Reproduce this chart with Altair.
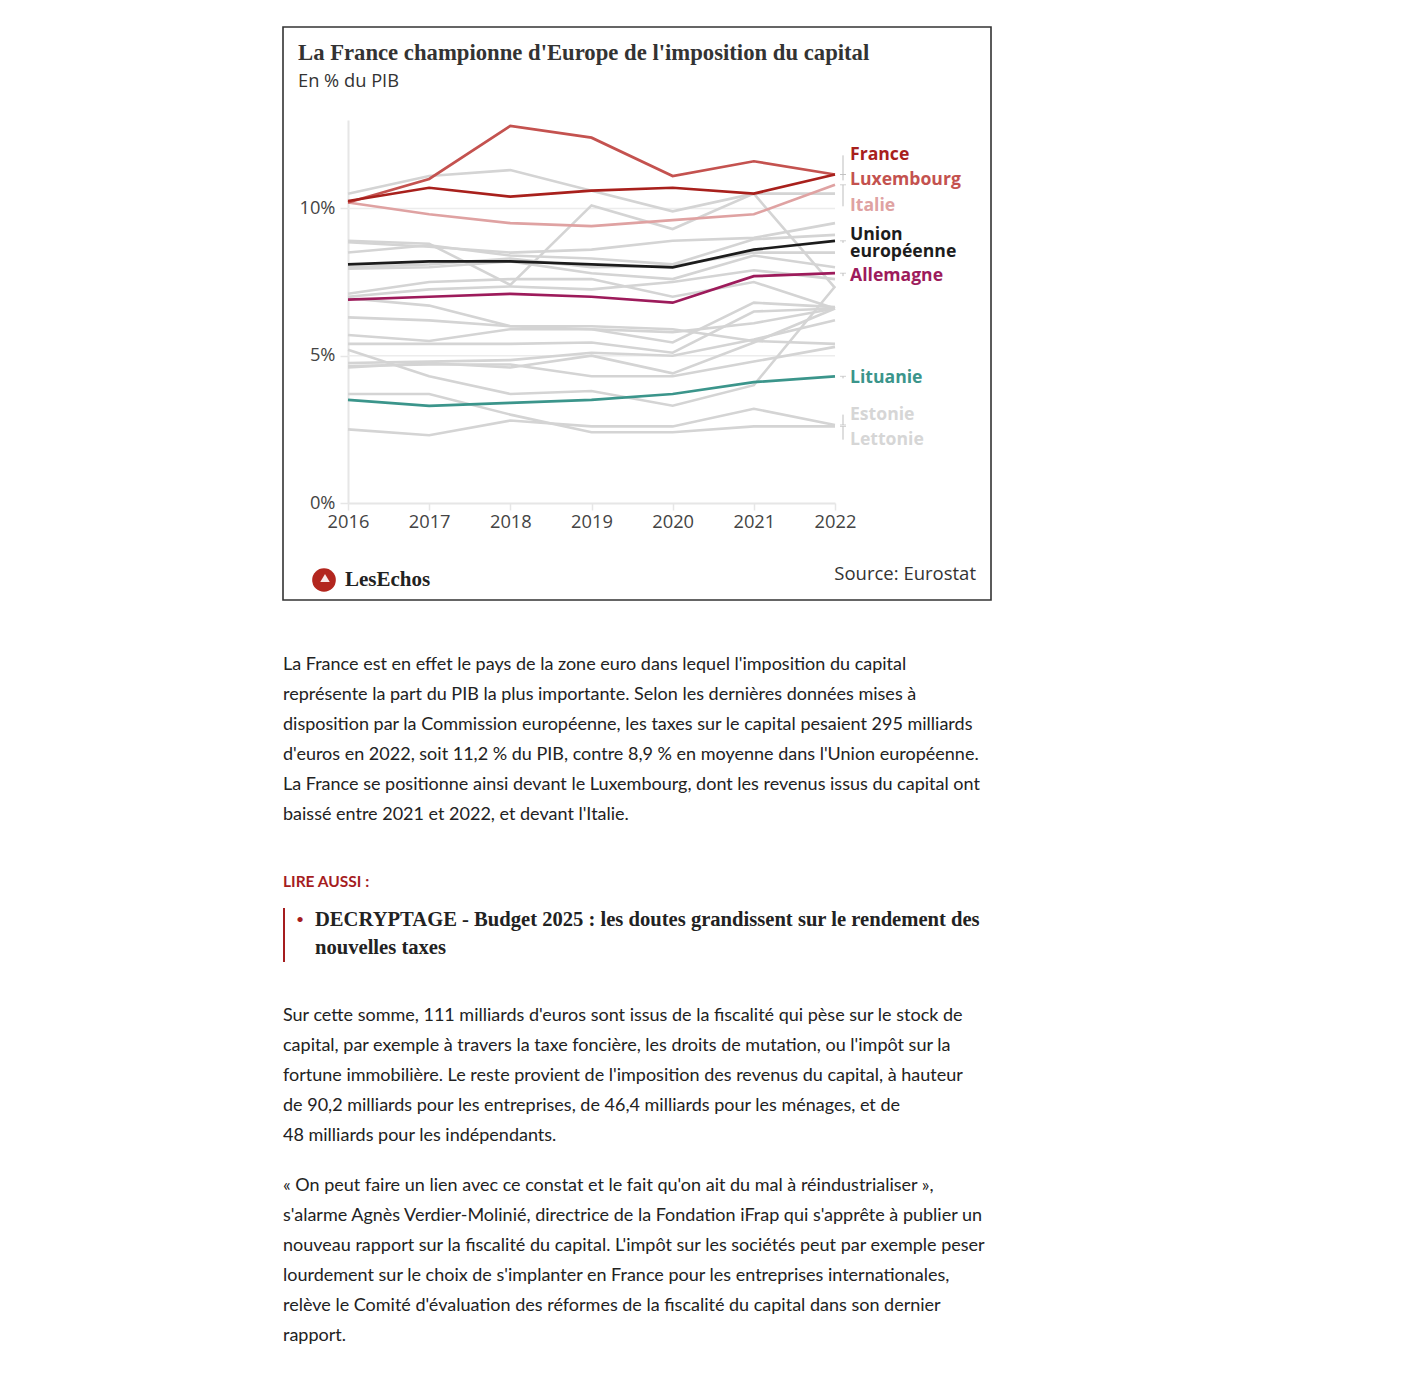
import altair as alt
import pandas as pd

# ---------------- data ----------------
years = [2016, 2017, 2018, 2019, 2020, 2021, 2022]

france = [10.25, 10.7, 10.4, 10.6, 10.7, 10.5, 11.15]
luxembourg = [10.2, 11.0, 12.8, 12.4, 11.1, 11.6, 11.15]
italie = [10.2, 9.8, 9.5, 9.4, 9.6, 9.8, 10.8]
ue = [8.1, 8.2, 8.2, 8.1, 8.0, 8.6, 8.9]
allemagne = [6.9, 7.0, 7.1, 7.0, 6.8, 7.7, 7.8]
lituanie = [3.5, 3.3, 3.4, 3.5, 3.7, 4.1, 4.3]

estonie = [2.5, 2.3, 2.8, 2.6, 2.6, 3.2, 2.65]
lettonie = [3.7, 3.7, 3.0, 2.4, 2.4, 2.6, 2.6]
belgique = [10.5, 11.1, 11.3, 10.6, 9.9, 10.5, 10.5]
chypre = [8.9, 8.8, 7.4, 10.1, 9.3, 10.5, 7.3]
danemark = [8.85, 8.7, 8.5, 8.6, 8.9, 9.0, 9.5]
autriche = [8.5, 8.75, 8.4, 8.3, 8.1, 8.95, 9.1]
espagne = [8.0, 8.1, 8.3, 8.0, 8.05, 8.5, 8.5]
pays_bas = [7.95, 8.0, 8.2, 7.8, 7.6, 8.4, 8.0]
portugal = [7.1, 7.5, 7.6, 7.6, 7.0, 7.5, 6.6]
grece = [7.0, 7.25, 7.35, 7.25, 7.5, 7.9, 7.6]
finlande = [6.95, 6.7, 6.0, 5.9, 5.8, 6.1, 6.6]
irlande = [6.3, 6.2, 6.0, 6.0, 5.9, 5.5, 5.4]
malte = [5.7, 5.5, 5.9, 5.9, 5.45, 6.8, 6.65]
slovenie = [5.4, 5.4, 5.4, 5.45, 5.1, 6.5, 6.6]
slovaquie = [5.2, 4.3, 3.7, 3.8, 3.3, 4.0, 7.35]
croatie = [4.75, 4.8, 4.85, 5.1, 5.0, 5.55, 6.2]
suede = [4.65, 4.7, 4.7, 4.3, 4.3, 4.8, 5.3]
hongrie = [4.6, 4.75, 4.6, 5.0, 4.4, 5.45, 6.6]

label_names = ["France", "Luxembourg", "Italie", "Union européenne", "Allemagne", "Lituanie", "Estonie", "Lettonie"]
label_texts = ["France", "Luxembourg", "Italie", "Union\neuropéenne", "Allemagne", "Lituanie", "Estonie", "Lettonie"]
label_pos = [11.8, 10.95, 10.07, 9.1, 7.7, 4.23, 3.0, 2.15]
label_conn = [11.8, 10.95, 10.07, 8.83, 7.7, 4.23, 3.0, 2.15]
label_end = [11.15, 11.15, 10.8, 8.9, 7.8, 4.3, 2.65, 2.6]
label_colors = ["#a8201c", "#c4524f", "#dfa2a2", "#1c1c1c", "#9d1b5b", "#3b958b", "#d6d6d6", "#d6d6d6"]

y_ticks = [0, 5, 10]
grid_vals = [5, 10]

title = "La France championne d'Europe de l'imposition du capital"
subtitle = "En % du PIB"
source = "Source: Eurostat"

para1 = [
    "La France est en effet le pays de la zone euro dans lequel l'imposition du capital",
    "représente la part du PIB la plus importante. Selon les dernières données mises à",
    "disposition par la Commission européenne, les taxes sur le capital pesaient 295 milliards",
    "d'euros en 2022, soit 11,2 % du PIB, contre 8,9 % en moyenne dans l'Union européenne.",
    "La France se positionne ainsi devant le Luxembourg, dont les revenus issus du capital ont",
    "baissé entre 2021 et 2022, et devant l'Italie.",
]
lire = "LIRE AUSSI :"
related = ["DECRYPTAGE - Budget 2025 : les doutes grandissent sur le rendement des", "nouvelles taxes"]
para2 = [
    "Sur cette somme, 111 milliards d'euros sont issus de la fiscalité qui pèse sur le stock de",
    "capital, par exemple à travers la taxe foncière, les droits de mutation, ou l'impôt sur la",
    "fortune immobilière. Le reste provient de l'imposition des revenus du capital, à hauteur",
    "de 90,2 milliards pour les entreprises, de 46,4 milliards pour les ménages, et de",
    "48 milliards pour les indépendants.",
]
para3 = [
    "« On peut faire un lien avec ce constat et le fait qu'on ait du mal à réindustrialiser »,",
    "s'alarme Agnès Verdier-Molinié, directrice de la Fondation iFrap qui s'apprête à publier un",
    "nouveau rapport sur la fiscalité du capital. L'impôt sur les sociétés peut par exemple peser",
    "lourdement sur le choix de s'implanter en France pour les entreprises internationales,",
    "relève le Comité d'évaluation des réformes de la fiscalité du capital dans son dernier",
    "rapport.",
]

# ---------------- tables ----------------
gray_series = {
    "Estonie": estonie, "Lettonie": lettonie, "Belgique": belgique, "Chypre": chypre,
    "Danemark": danemark, "Autriche": autriche, "Espagne": espagne, "Pays-Bas": pays_bas,
    "Portugal": portugal, "Grèce": grece, "Finlande": finlande, "Irlande": irlande,
    "Malte": malte, "Slovénie": slovenie, "Slovaquie": slovaquie, "Croatie": croatie,
    "Suède": suede, "Hongrie": hongrie,
}
hl_series = {
    "Italie": italie, "Luxembourg": luxembourg, "Lituanie": lituanie,
    "Allemagne": allemagne, "France": france, "Union européenne": ue,
}

def long_df(d):
    rows = []
    for k, vals in d.items():
        for yr, v in zip(years, vals):
            rows.append({"country": k, "year": yr, "value": v})
    return pd.DataFrame(rows)

gray_df = long_df(gray_series)
hl_df = long_df(hl_series)

labels_df = pd.DataFrame({"country": label_names, "label": label_texts,
                          "pos": label_pos, "conn": label_conn, "end": label_end})
grid_df = pd.DataFrame({"v": grid_vals, "xa": [years[0]] * len(grid_vals), "xb": [years[-1]] * len(grid_vals)})
one = pd.DataFrame({"a": [0]})

color_scale = alt.Scale(domain=label_names, range=label_colors)

W, H = 487, 383
xs = alt.Scale(domain=[2016, 2022], nice=False)
ys = alt.Scale(domain=[0, 13], nice=False)

x_axis = alt.Axis(values=years, format="d", grid=False, labelFlush=False,
                  domainColor="#e6e6e6", domainWidth=2, tickColor="#e6e6e6", tickWidth=1.5,
                  tickSize=7, labelFontSize=18.3, labelColor="#444", labelPadding=3,
                  labelFont="Open Sans", title=None)
y_axis = alt.Axis(values=y_ticks, labelExpr="datum.value + '%'", grid=False, labelFlush=False,
                  domainColor="#e6e6e6", domainWidth=2, tickColor="#e6e6e6", tickWidth=1.5,
                  tickSize=8, labelFontSize=18.3, labelColor="#444", labelPadding=5,
                  labelFont="Open Sans", title=None)

grid = alt.Chart(grid_df).mark_rule(color="#ececec", strokeWidth=1.5).encode(
    x=alt.X("xa:Q", scale=xs, axis=x_axis), x2="xb:Q",
    y=alt.Y("v:Q", scale=ys, axis=y_axis),
)

gray_lines = alt.Chart(gray_df).mark_line(color="#d4d4d4", strokeWidth=2.6).encode(
    x="year:Q", y="value:Q", detail="country:N",
)

hl_lines = alt.Chart(hl_df).mark_line(strokeWidth=2.7).encode(
    x="year:Q", y="value:Q",
    color=alt.Color("country:N", scale=color_scale, legend=None),
)

conn_v = alt.Chart(labels_df).mark_rule(color="#bdbdbd", strokeWidth=1).encode(
    x=alt.value(495), y="conn:Q", y2="end:Q",
)
conn_t = alt.Chart(labels_df).mark_tick(color="#bdbdbd", orient="horizontal", thickness=1, size=6).encode(
    x=alt.value(495), y="end:Q",
)

labels = alt.Chart(labels_df).mark_text(
    align="left", baseline="middle", fontSize=17.6, fontWeight="bold",
    font="Open Sans", lineBreak="\n", lineHeight=17.5,
).encode(
    x=alt.value(502), y="pos:Q", text="label:N",
    color=alt.Color("country:N", scale=color_scale, legend=None),
)

def txt(text, x, y, **kw):
    return alt.Chart(one).mark_text(text=text, **kw).encode(x=alt.value(x), y=alt.value(y))

border = alt.Chart(one).mark_rect(fill="transparent", stroke="#333", strokeWidth=1.6).encode(
    x=alt.value(-65), x2=alt.value(643), y=alt.value(-93), y2=alt.value(480))
title_t = txt(title, -50, -67, align="left", baseline="middle", font="Liberation Serif",
              fontSize=22.7, fontWeight="bold", color="#333")
sub_t = txt(subtitle, -50, -38, align="left", baseline="middle", font="Open Sans",
            fontSize=18.3, color="#333")
src_t = txt(source, 628, 454, align="right", baseline="middle", font="Open Sans",
            fontSize=18.5, color="#333")
logo_c = alt.Chart(one).mark_point(filled=True, shape="circle", size=560, color="#b3261e", opacity=1).encode(
    x=alt.value(-24), y=alt.value(460))
logo_w = alt.Chart(one).mark_point(filled=True, shape="triangle-up", size=90, color="white", opacity=0.9).encode(
    x=alt.value(-23), y=alt.value(458))
logo_t = txt("LesEchos", -3, 460, align="left", baseline="middle", font="Liberation Serif",
             fontSize=21, fontWeight="bold", color="#222")

# article text (below the box)
p1_t = txt("\n".join(para1), -65, 545, align="left", baseline="middle", font="Lato",
           fontSize=18, color="#222", lineBreak="\n", lineHeight=30)
lire_t = txt(lire, -65, 762, align="left", baseline="middle", font="Lato",
             fontSize=15.5, fontWeight="bold", color="#a51d1f")
rel_t = txt("\n".join(related), -33, 800, align="left", baseline="middle", font="Liberation Serif",
            fontSize=20.6, fontWeight="bold", color="#222", lineBreak="\n", lineHeight=28)
bul_t = txt("•", -48, 800, align="center", baseline="middle", font="Lato", fontSize=14, color="#a51d1f")
bar = alt.Chart(one).mark_rule(color="#a51d1f", strokeWidth=2).encode(
    x=alt.value(-64), y=alt.value(788), y2=alt.value(842))
p2_t = txt("\n".join(para2), -65, 896, align="left", baseline="middle", font="Lato",
           fontSize=18, color="#222", lineBreak="\n", lineHeight=30)
p3_t = txt("\n".join(para3), -65, 1066, align="left", baseline="middle", font="Lato",
           fontSize=18, color="#222", lineBreak="\n", lineHeight=30)

chart = alt.layer(grid, gray_lines, hl_lines, conn_v, conn_t, labels, border,
                  title_t, sub_t, src_t, logo_c, logo_w, logo_t,
                  p1_t, lire_t, rel_t, bul_t, bar, p2_t, p3_t).properties(
    width=W, height=H,
    padding={"left": 274, "top": 18, "right": 5, "bottom": 5},
).configure(font="Open Sans").configure_view(stroke="transparent")

chart.save("out.html", embed_options={"renderer": "svg", "actions": False})
